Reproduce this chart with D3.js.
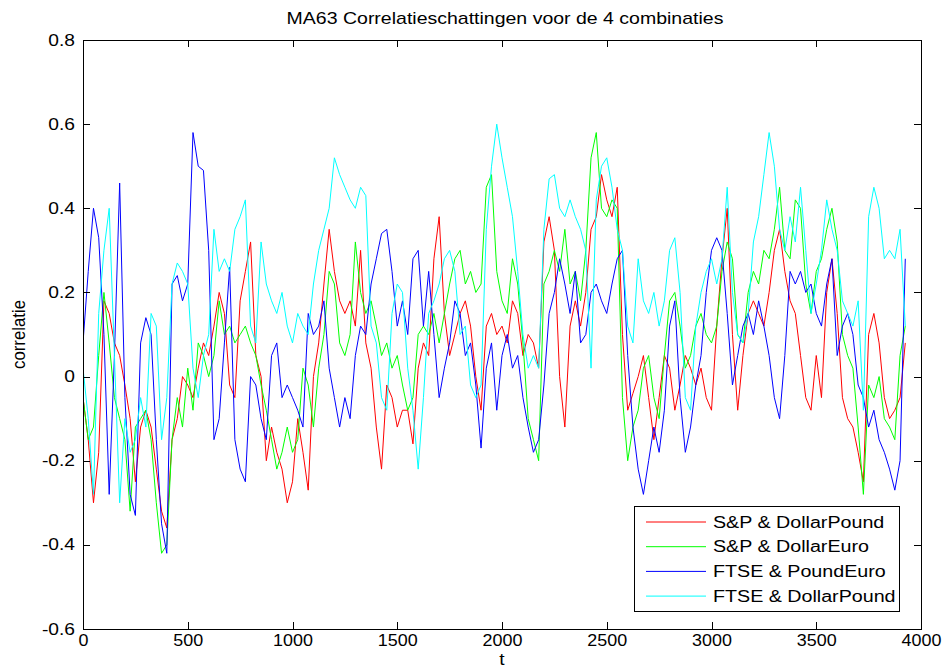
<!DOCTYPE html>
<html>
<head>
<meta charset="utf-8">
<script src="https://cdn.jsdelivr.net/npm/d3@7"></script>
<style>
  html, body { margin: 0; padding: 0; background: #fff; }
  svg { display: block; font-family: "Liberation Sans", Arial, sans-serif; }
</style>
</head>
<body>
<svg id="chart" width="943" height="669"></svg>
<script>
// Moving-average (63) correlation estimates, sampled every 25 observations
const sampleStep = 25;

const spDollarPound = [
  -0.05, -0.15, -0.30, -0.18, 0.18, 0.15, 0.08, 0.05, -0.02, -0.10,
  -0.25, -0.12, -0.08, -0.12, -0.22, -0.32, -0.36, -0.15, -0.10, 0.00,
  -0.02, -0.05, 0.02, 0.08, 0.05, 0.12, 0.20, 0.15, -0.02, -0.05,
  0.18, 0.25, 0.32, 0.05, 0.00, -0.20, -0.12, -0.18, -0.22, -0.30,
  -0.25, -0.10, -0.18, -0.27, 0.00, 0.08, 0.22, 0.35, 0.25, 0.18,
  0.15, 0.18, 0.12, 0.30, 0.08, 0.02, -0.12, -0.22, -0.02, -0.05,
  -0.12, -0.08, -0.08, -0.16, 0.02, 0.08, 0.05, 0.28, 0.38, 0.15,
  0.05, 0.10, 0.15, 0.18, 0.12, 0.00, -0.08, 0.12, 0.15, 0.10,
  0.12, 0.08, 0.18, 0.15, 0.05, 0.10, 0.08, 0.02, 0.32, 0.38,
  0.30, 0.00, -0.12, 0.12, 0.18, 0.12, 0.20, 0.35, 0.38, 0.48,
  0.42, 0.38, 0.45, 0.10, -0.08, -0.04, 0.00, 0.05, -0.05, -0.15,
  -0.05, 0.05, 0.02, -0.08, -0.02, 0.05, 0.02, -0.02, 0.02, -0.05,
  -0.08, 0.12, 0.28, 0.40, 0.10, -0.08, 0.05, 0.15, 0.18, 0.15,
  0.12, 0.20, 0.30, 0.35, 0.25, 0.18, 0.15, 0.05, -0.05, -0.08,
  0.05, -0.05, 0.20, 0.28, 0.15, -0.05, -0.10, -0.12, -0.18, -0.25,
  0.10, 0.15, 0.08, -0.05, -0.10, -0.08, -0.05, 0.08
];

const spDollarEuro = [
  -0.05, -0.15, -0.12, 0.05, 0.20, 0.08, -0.05, -0.10, -0.15, -0.32,
  -0.12, -0.10, -0.08, -0.15, -0.30, -0.42, -0.40, -0.15, -0.05, -0.12,
  0.02, -0.08, 0.08, 0.05, 0.00, 0.05, 0.18, 0.10, 0.12, 0.08,
  0.10, 0.12, 0.08, 0.05, -0.02, -0.08, -0.15, -0.22, -0.18, -0.12,
  -0.18, -0.15, 0.02, -0.02, -0.12, 0.02, 0.10, 0.25, 0.22, 0.08,
  0.05, 0.10, 0.32, 0.20, 0.15, 0.18, 0.12, 0.05, 0.08, 0.02,
  0.05, -0.02, -0.08, -0.05, 0.10, 0.12, 0.10, 0.15, 0.08, 0.15,
  0.22, 0.28, 0.30, 0.22, 0.25, 0.20, 0.22, 0.45, 0.48, 0.25,
  0.18, 0.15, 0.28, 0.22, 0.08, -0.10, -0.15, -0.20, 0.22, 0.25,
  0.30, 0.25, 0.35, 0.22, 0.25, 0.18, 0.30, 0.52, 0.58, 0.40,
  0.38, 0.42, 0.40, -0.05, -0.20, -0.12, -0.08, 0.02, 0.05, -0.05,
  -0.10, 0.05, 0.18, 0.20, 0.12, 0.02, 0.05, 0.12, 0.15, 0.10,
  0.08, 0.12, 0.25, 0.32, 0.28, 0.10, 0.08, 0.20, 0.25, 0.22,
  0.30, 0.28, 0.35, 0.45, 0.30, 0.28, 0.42, 0.40, 0.22, 0.15,
  0.25, 0.28, 0.35, 0.40, 0.32, 0.10, 0.05, 0.02, -0.12, -0.28,
  -0.02, -0.05, 0.00, -0.10, -0.12, -0.15, 0.05, 0.12
];

const ftsePoundEuro = [
  0.08, 0.25, 0.40, 0.33, 0.10, -0.28, 0.05, 0.46, -0.05, -0.28,
  -0.33, 0.08, 0.14, 0.10, -0.15, -0.35, -0.42, 0.22, 0.24, 0.18,
  0.22, 0.58, 0.50, 0.49, 0.30, -0.15, -0.10, 0.08, 0.26, -0.15,
  -0.22, -0.25, 0.00, -0.02, -0.10, -0.15, 0.05, 0.08, -0.05, -0.02,
  -0.05, -0.08, -0.12, 0.15, 0.10, 0.12, 0.18, 0.02, -0.05, -0.12,
  -0.05, -0.10, 0.05, 0.12, 0.10, 0.22, 0.28, 0.34, 0.35, 0.25,
  0.12, 0.18, 0.10, 0.28, 0.30, 0.12, 0.25, 0.10, -0.05, 0.02,
  0.08, 0.18, 0.15, 0.05, 0.08, -0.02, -0.17, 0.02, 0.08, -0.08,
  0.05, 0.10, 0.02, 0.05, -0.05, -0.12, -0.18, -0.15, -0.02, 0.15,
  0.20, 0.28, 0.22, 0.15, 0.25, 0.08, 0.10, 0.20, 0.22, 0.18,
  0.15, 0.22, 0.28, 0.30, 0.05, -0.12, -0.22, -0.28, -0.20, -0.12,
  -0.18, -0.08, 0.12, 0.18, -0.05, -0.18, -0.12, -0.02, 0.05, 0.20,
  0.30, 0.33, 0.30, 0.15, -0.02, 0.05, 0.12, 0.15, 0.10, 0.18,
  0.12, 0.05, -0.05, -0.10, 0.05, 0.25, 0.22, 0.25, 0.20, 0.22,
  0.15, 0.12, 0.22, 0.28, 0.05, 0.12, 0.15, 0.10, -0.02, -0.05,
  -0.12, -0.08, -0.15, -0.18, -0.22, -0.27, -0.20, 0.28
];

const ftseDollarPound = [
  0.02, -0.10, -0.28, 0.15, 0.30, 0.40, 0.05, -0.30, -0.10, -0.18,
  -0.15, -0.05, -0.12, 0.15, 0.12, -0.15, -0.05, 0.22, 0.27, 0.25,
  0.22, 0.02, -0.05, 0.05, 0.10, 0.35, 0.25, 0.28, 0.25, 0.35,
  0.38, 0.42, 0.12, 0.08, 0.32, 0.22, 0.18, 0.15, 0.20, 0.12,
  0.08, 0.15, 0.12, 0.10, 0.22, 0.30, 0.35, 0.40, 0.52, 0.48,
  0.45, 0.42, 0.40, 0.45, 0.43, 0.12, 0.08, -0.05, -0.08, 0.15,
  0.22, 0.20, 0.02, -0.08, -0.22, -0.05, 0.15, 0.18, 0.22, 0.28,
  0.30, 0.25, 0.10, 0.12, -0.02, -0.05, -0.02, 0.35, 0.50, 0.60,
  0.52, 0.45, 0.38, 0.25, 0.10, 0.02, 0.05, 0.02, 0.35, 0.47,
  0.48, 0.40, 0.38, 0.42, 0.38, 0.35, 0.30, 0.02, 0.42, 0.50,
  0.52, 0.45, 0.35, 0.30, 0.12, 0.08, 0.28, 0.18, 0.15, 0.20,
  0.12, 0.18, 0.30, 0.33, 0.20, -0.05, -0.08, 0.12, 0.20, 0.25,
  0.28, 0.22, 0.28, 0.45, 0.20, 0.10, 0.08, 0.15, 0.32, 0.38,
  0.48, 0.58, 0.50, 0.35, 0.30, 0.38, 0.32, 0.45, 0.30, 0.15,
  0.22, 0.30, 0.42, 0.35, 0.30, 0.18, 0.15, 0.12, 0.18, -0.08,
  0.38, 0.45, 0.40, 0.28, 0.30, 0.28, 0.35, 0.12
];

const seriesNames = ["S&P & DollarPound", "S&P & DollarEuro", "FTSE & PoundEuro", "FTSE & DollarPound"];
const seriesColors = ["#ff0000", "#00ff00", "#0000ff", "#00ffff"];
const seriesValues = [spDollarPound, spDollarEuro, ftsePoundEuro, ftseDollarPound];

const xTicks = [0, 500, 1000, 1500, 2000, 2500, 3000, 3500, 4000];
const yTicks = [-0.6, -0.4, -0.2, 0, 0.2, 0.4, 0.6, 0.8];
const yTickLabels = ["-0.6", "-0.4", "-0.2", "0", "0.2", "0.4", "0.6", "0.8"];

const titleText = "MA63 Correlatieschattingen voor de 4 combinaties";
const xLabel = "t";
const yLabel = "correlatie";

// Layout
const margin = { left: 83, right: 22, top: 40, bottom: 40 };
const W = 943, H = 669;
const plotW = W - margin.left - margin.right;
const plotH = H - margin.top - margin.bottom;
const fontSize = 16;
const wide = 1.2;   // horizontal stretch of the lettering

const svg = d3.select("#chart");
const g = svg.append("g").attr("transform", `translate(${margin.left},${margin.top})`);

const x = d3.scaleLinear().domain([0, 4000]).range([0, plotW]);
const y = d3.scaleLinear().domain([-0.6, 0.8]).range([plotH, 0]);

g.append("rect").attr("width", plotW).attr("height", plotH).attr("fill", "#fff");

// Series lines
const clip = svg.append("defs").append("clipPath").attr("id", "plotClip");
clip.append("rect").attr("width", plotW).attr("height", plotH);

const line = d3.line()
  .x((d, i) => x(i * sampleStep))
  .y(d => y(d));

const lines = g.append("g").attr("clip-path", "url(#plotClip)");
seriesValues.forEach((vals, si) => {
  lines.append("path")
    .datum(vals)
    .attr("fill", "none")
    .attr("stroke", seriesColors[si])
    .attr("stroke-width", 1)
    .attr("d", line);
});

// Axes: ticks pointing inward, mirrored on top and right
const tickLen = 7;
const fmtY = d => yTickLabels[yTicks.indexOf(d)];

const axB = g.append("g").attr("transform", `translate(0,${plotH})`)
  .call(d3.axisBottom(x).tickValues(xTicks).tickSizeInner(-tickLen).tickSizeOuter(0).tickPadding(6).tickFormat(d3.format("d")));
const axT = g.append("g")
  .call(d3.axisTop(x).tickValues(xTicks).tickSizeInner(-tickLen).tickSizeOuter(0).tickFormat(""));
const axL = g.append("g")
  .call(d3.axisLeft(y).tickValues(yTicks).tickSizeInner(-tickLen).tickSizeOuter(0).tickPadding(8).tickFormat(fmtY));
const axR = g.append("g").attr("transform", `translate(${plotW},0)`)
  .call(d3.axisRight(y).tickValues(yTicks).tickSizeInner(-tickLen).tickSizeOuter(0).tickFormat(""));

[axB, axT, axL, axR].forEach(a => {
  a.select(".domain").remove();
  a.selectAll("line").attr("stroke", "#000").attr("shape-rendering", "crispEdges");
  a.selectAll("text").attr("fill", "#000").style("font-size", fontSize + "px").style("font-family", "Liberation Sans, Arial, sans-serif");
});
// widen tick lettering about its anchor
axB.selectAll("text").attr("transform", `scale(1.12,1)`);
axL.selectAll("text").attr("x", -8 / wide).attr("transform", `scale(${wide},1)`);

// Frame
g.append("rect")
  .attr("width", plotW).attr("height", plotH)
  .attr("fill", "none").attr("stroke", "#000").attr("stroke-width", 1)
  .attr("shape-rendering", "crispEdges");

// Title and axis labels
svg.append("text")
  .attr("transform", `translate(${margin.left + plotW / 2 + 3},24) scale(1.22,1)`)
  .attr("text-anchor", "middle")
  .style("font-size", fontSize + "px")
  .text(titleText);

svg.append("text")
  .attr("transform", `translate(${margin.left + plotW / 2},665) scale(${wide},1)`)
  .attr("text-anchor", "middle")
  .style("font-size", fontSize + "px")
  .text(xLabel);

svg.append("text")
  .attr("transform", `translate(25,${margin.top + plotH / 2}) rotate(-90) scale(1.05,${wide})`)
  .attr("text-anchor", "middle")
  .style("font-size", fontSize + "px")
  .text(yLabel);

// Legend
const legend = svg.append("g").attr("transform", "translate(634,506)");
legend.append("rect")
  .attr("width", 265).attr("height", 105)
  .attr("fill", "#fff").attr("stroke", "#000").attr("stroke-width", 1)
  .attr("shape-rendering", "crispEdges");

seriesNames.forEach((name, i) => {
  const ry = 16 + i * 24.7;
  legend.append("line")
    .attr("x1", 12).attr("x2", 72).attr("y1", ry).attr("y2", ry)
    .attr("stroke", seriesColors[i]).attr("stroke-width", 1);
  legend.append("text")
    .attr("transform", `translate(79,${ry + 5.5}) scale(1.23,1)`)
    .style("font-size", fontSize + "px")
    .text(name);
});
</script>
</body>
</html>
